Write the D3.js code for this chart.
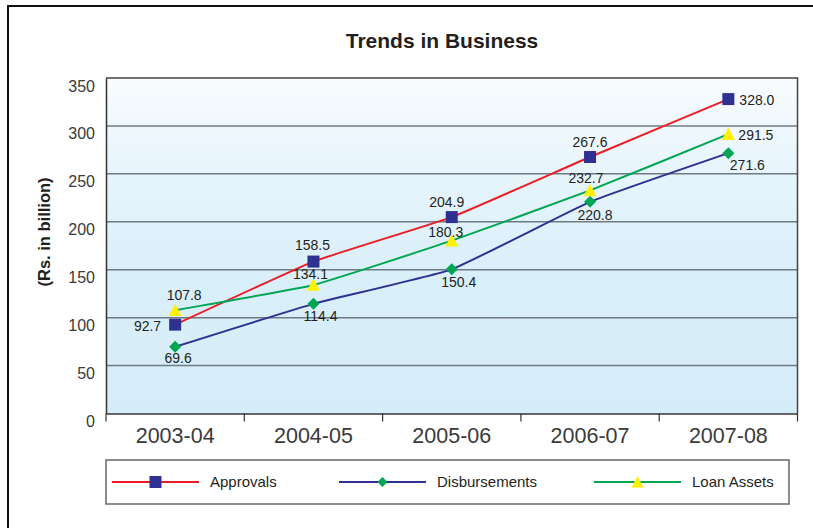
<!DOCTYPE html>
<html>
<head>
<meta charset="utf-8">
<script src="https://cdn.jsdelivr.net/npm/d3@7"></script>
<style>
  html, body { margin: 0; padding: 0; background: #ffffff; }
  svg { display: block; font-family: "Liberation Sans", Arial, Helvetica, sans-serif; }
</style>
</head>
<body>
<svg id="chart" width="813" height="528"></svg>
<script>
// Fiscal years on the x axis
const years = ["2003-04", "2004-05", "2005-06", "2006-07", "2007-08"];

// Series values, Rs. in billion
const approvals     = [92.7, 158.5, 204.9, 267.6, 328.0];
const disbursements = [69.6, 114.4, 150.4, 220.8, 271.6];
const loanAssets    = [107.8, 134.1, 180.3, 232.7, 291.5];

const seriesNames = ["Approvals", "Disbursements", "Loan Assets"];
const yTicks = [0, 50, 100, 150, 200, 250, 300, 350];

const chartTitle = "Trends in Business";
const yTitle = "(Rs. in billion)";

// Styling for each series: line colour, marker shape and fill
const styles = [
  { line: "#ed1c24", marker: "square",   fill: "#2e3192", size: 12 },
  { line: "#2e3192", marker: "diamond",  fill: "#00a651", size: 12 },
  { line: "#00a651", marker: "triangle", fill: "#fff200", size: 13 }
];

// Value label offsets (dx, dy to baseline, anchor) for each point
const labelOffsets = [
  [[-14, 6, "end"], [-1, -12, "middle"], [-5, -10, "middle"], [0, -10, "middle"], [11, 6, "start"]],
  [[3, 16, "middle"], [7, 17, "middle"], [7, 18, "middle"], [5, 18, "middle"], [19, 17, "middle"]],
  [[9, -10, "middle"], [-3, -6, "middle"], [-6, -4, "middle"], [-4, -7, "middle"], [10, 6, "start"]]
];

const svg = d3.select("#chart");
const plot = { left: 106, right: 797.5, top: 78, bottom: 413.5 };

const x = d3.scaleBand().domain(years).range([plot.left, plot.right]).padding(0);
const y = d3.scaleLinear().domain([0, 350]).range([plot.bottom, plot.top]);
const xc = d => x(d) + x.bandwidth() / 2;

// Outer frame
svg.append("path")
  .attr("d", `M8,530 L8,6 L815,6`)
  .attr("fill", "none")
  .attr("stroke", "#111")
  .attr("stroke-width", 2);

// Plot background gradient
const defs = svg.append("defs");
const grad = defs.append("linearGradient")
  .attr("id", "bg").attr("x1", 0).attr("y1", 0).attr("x2", 0).attr("y2", 1);
grad.append("stop").attr("offset", "0%").attr("stop-color", "#f8fcfe");
grad.append("stop").attr("offset", "30%").attr("stop-color", "#e6f4fc");
grad.append("stop").attr("offset", "60%").attr("stop-color", "#d9eff9");
grad.append("stop").attr("offset", "100%").attr("stop-color", "#d5edf9");

svg.append("rect")
  .attr("x", plot.left).attr("y", plot.top)
  .attr("width", plot.right - plot.left).attr("height", plot.bottom - plot.top)
  .attr("fill", "url(#bg)");

// Horizontal gridlines
svg.append("g")
  .selectAll("line")
  .data(yTicks.filter(t => t > 0 && t < 350))
  .join("line")
  .attr("x1", plot.left).attr("x2", plot.right)
  .attr("y1", d => y(d)).attr("y2", d => y(d))
  .attr("stroke", "#6f7b84")
  .attr("stroke-width", 1.5);

// Plot frame: top and right edges
svg.append("path")
  .attr("d", `M${plot.left},${plot.top} L${plot.right},${plot.top} L${plot.right},${plot.bottom}`)
  .attr("fill", "none")
  .attr("stroke", "#444")
  .attr("stroke-width", 1.5);

// Y axis
const yAxis = d3.axisLeft(y).tickValues(yTicks).tickSize(0).tickPadding(11);
const gy = svg.append("g").attr("transform", `translate(${plot.left},0)`).call(yAxis);
gy.select(".domain").attr("stroke", "#333").attr("stroke-width", 1.5);
gy.selectAll("text")
  .attr("font-size", 16)
  .attr("fill", "#3a3a3a")
  .attr("dy", 13)
  .attr("font-family", "'Liberation Sans', Arial, sans-serif");

// X axis with ticks at band edges
const xAxis = d3.axisBottom(x).tickSize(0).tickPadding(14);
const gx = svg.append("g").attr("transform", `translate(0,${plot.bottom})`).call(xAxis);
gx.select(".domain").attr("stroke", "#333").attr("stroke-width", 1.5);
gx.selectAll("text")
  .attr("font-size", 21.5)
  .attr("fill", "#3a3a3a")
  .attr("font-family", "'Liberation Sans', Arial, sans-serif");
const edges = years.map(d => x(d)).concat([plot.right]);
gx.append("g").selectAll("line")
  .data(edges)
  .join("line")
  .attr("x1", d => d).attr("x2", d => d)
  .attr("y1", 0).attr("y2", 8)
  .attr("stroke", "#333").attr("stroke-width", 1.2);

// Titles
svg.append("text")
  .attr("x", 442).attr("y", 48)
  .attr("text-anchor", "middle")
  .attr("font-size", 21)
  .attr("font-weight", "bold")
  .attr("fill", "#231f20")
  .text(chartTitle);

svg.append("text")
  .attr("transform", "translate(50,232) rotate(-90)")
  .attr("text-anchor", "middle")
  .attr("font-size", 16.5)
  .attr("font-weight", "bold")
  .attr("fill", "#231f20")
  .text(yTitle);

// Marker drawing helper
function markerPath(shape, s) {
  const h = s / 2;
  if (shape === "square") return `M${-h},${-h}H${h}V${h}H${-h}Z`;
  if (shape === "diamond") return `M0,${-h}L${h},0L0,${h}L${-h},0Z`;
  return `M0,${-h}L${h},${h * 0.9}L${-h},${h * 0.9}Z`;
}

const allSeries = [approvals, disbursements, loanAssets];
const line = d3.line()
  .x((d, i) => xc(years[i]))
  .y(d => y(d))
  .curve(d3.curveCardinal.tension(0.65));

// Lines
allSeries.forEach((vals, si) => {
  svg.append("path")
    .datum(vals)
    .attr("d", line)
    .attr("fill", "none")
    .attr("stroke", styles[si].line)
    .attr("stroke-width", 2);
});

// Markers and value labels
allSeries.forEach((vals, si) => {
  const st = styles[si];
  const g = svg.append("g");
  g.selectAll("path")
    .data(vals)
    .join("path")
    .attr("transform", (d, i) => `translate(${xc(years[i])},${y(d)})`)
    .attr("d", markerPath(st.marker, st.size))
    .attr("fill", st.fill);
  g.selectAll("text")
    .data(vals)
    .join("text")
    .attr("x", (d, i) => xc(years[i]) + labelOffsets[si][i][0])
    .attr("y", (d, i) => y(d) + labelOffsets[si][i][1])
    .attr("text-anchor", (d, i) => labelOffsets[si][i][2])
    .attr("font-size", 14)
    .attr("fill", "#231f20")
    .text(d => d.toFixed(1));
});

// Legend
const legend = svg.append("g");
legend.append("rect")
  .attr("x", 106).attr("y", 460)
  .attr("width", 683).attr("height", 44)
  .attr("fill", "#fff")
  .attr("stroke", "#666")
  .attr("stroke-width", 1.5);

const legendItems = [
  { x0: 112, x1: 199, tx: 210 },
  { x0: 339, x1: 426, tx: 437 },
  { x0: 594, x1: 681, tx: 692 }
];
const ly = 482;
seriesNames.forEach((name, si) => {
  const it = legendItems[si];
  const st = styles[si];
  legend.append("line")
    .attr("x1", it.x0).attr("x2", it.x1)
    .attr("y1", ly).attr("y2", ly)
    .attr("stroke", st.line).attr("stroke-width", 2);
  legend.append("path")
    .attr("transform", `translate(${(it.x0 + it.x1) / 2},${ly})`)
    .attr("d", markerPath(st.marker, st.marker === "diamond" ? 10 : 12))
    .attr("fill", st.fill);
  legend.append("text")
    .attr("x", it.tx).attr("y", ly + 5)
    .attr("font-size", 15)
    .attr("fill", "#231f20")
    .text(name);
});
</script>
</body>
</html>
